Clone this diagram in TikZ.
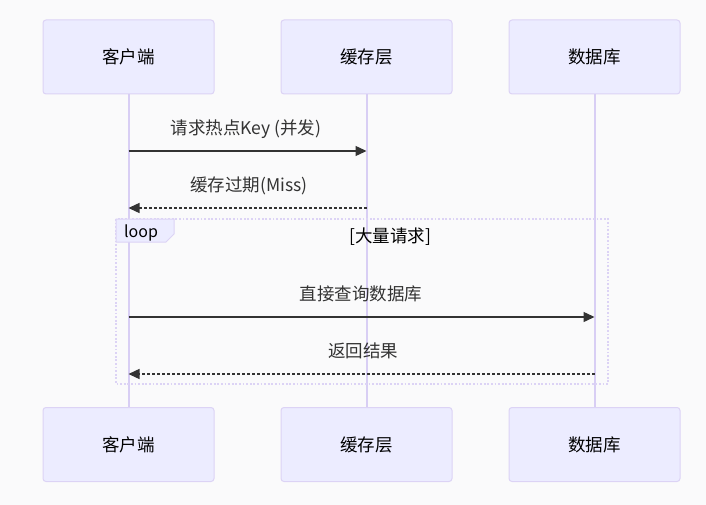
\documentclass[tikz,border=0pt]{standalone}
\usepackage{fontspec}
\setmainfont{Noto Sans CJK SC}
\usetikzlibrary{arrows.meta}
\definecolor{bgc}{HTML}{FAFAFB}
\definecolor{actorfill}{HTML}{ECECFF}
\definecolor{actorline}{HTML}{DCD3F5}
\definecolor{lifec}{HTML}{D8CEF4}
\definecolor{msgc}{HTML}{333333}
\tikzset{
  actor/.style={draw=actorline, fill=actorfill, line width=1pt, rounded corners=3pt,
    minimum width=171pt, minimum height=74pt, inner sep=0pt,
    font=\fontsize{17.5}{20}\selectfont, text=black},
  lifeline/.style={draw=lifec, line width=2pt},
  msg/.style={draw=msgc, line width=1.4pt, -{Triangle[length=11pt,width=10pt]}},
  reply/.style={msg, dash pattern=on 3pt off 2pt},
  msglabel/.style={font=\fontsize{17.5}{20}\selectfont, text=msgc, inner sep=0pt},
  loopframe/.style={draw=actorline, line width=1.8pt, dash pattern=on 1.8pt off 1.8pt},
}
\begin{document}
\begin{tikzpicture}[x=1pt,y=-1pt]
  \fill[bgc] (0,0) rectangle (706,505);
  \useasboundingbox (0,0) rectangle (706,505);

  % participants (top and bottom)
  \node[actor] (c1) at (128.5,57) {客户端};
  \node[actor] (k1) at (366.5,57) {缓存层};
  \node[actor] (d1) at (594.5,57) {数据库};
  \node[actor] (c2) at (128.5,444.5) {客户端};
  \node[actor] (k2) at (366.5,444.5) {缓存层};
  \node[actor] (d2) at (594.5,444.5) {数据库};

  % lifelines
  \draw[lifeline] (c1.south) -- (c2.north);
  \draw[lifeline] (k1.south) -- (k2.north);
  \draw[lifeline] (d1.south) -- (d2.north);

  % loop frame
  \draw[loopframe] (116,219) rectangle (608,384);
  \draw[draw=actorline, fill=actorfill, line width=1pt]
    (116,219) -- (174,219) -- (174,234) -- (166,242) -- (116,242) -- cycle;
  \node[font=\fontsize{16}{18}\selectfont, text=black, inner sep=0pt] (looplbl) at (141,233) {loop};
  \node[font=\fontsize{17.5}{20}\selectfont, text=black, inner sep=0pt] (cond) at (390,236.5) {[大量请求]};

  % message anchor points on the lifelines
  \coordinate (c151) at (c1.south |- 0,151);
  \coordinate (k151) at (k1.south |- 0,151);
  \coordinate (c208) at (c1.south |- 0,208);
  \coordinate (k208) at (k1.south |- 0,208);
  \coordinate (c317) at (c1.south |- 0,317);
  \coordinate (d317) at (d1.south |- 0,317);
  \coordinate (c374) at (c1.south |- 0,374);
  \coordinate (d374) at (d1.south |- 0,374);

  % messages
  \draw[msg] (c151) -- (k151);
  \node[msglabel] (m1) at (246,129) {请求热点Key (并发)};
  \draw[reply] (k208) -- (c208);
  \node[msglabel] (m2) at (249,186) {缓存过期(Miss)};
  \draw[msg] (c317) -- (d317);
  \node[msglabel] (m3) at (361,294) {直接查询数据库};
  \draw[reply] (d374) -- (c374);
  \node[msglabel] (m4) at (363,351) {返回结果};
\end{tikzpicture}
\end{document}
